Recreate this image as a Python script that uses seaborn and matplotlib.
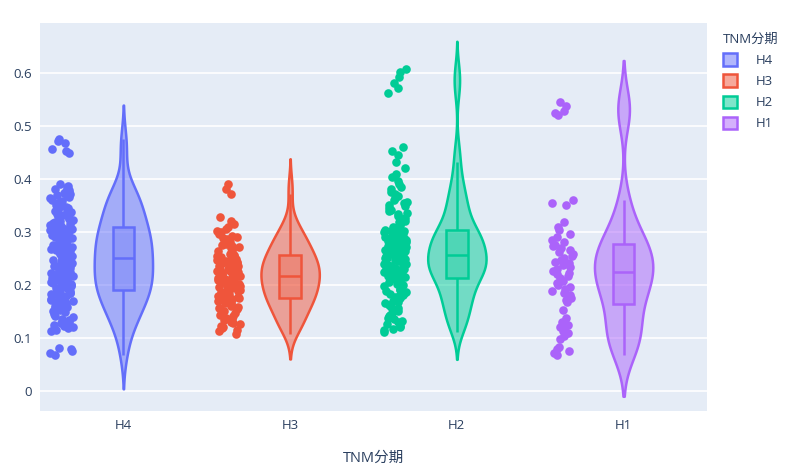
import numpy as np
import pandas as pd
import matplotlib
matplotlib.use('Agg')
import matplotlib.pyplot as plt
import seaborn as sns
from matplotlib.colors import to_rgba
from matplotlib.patches import Patch

# categories and colours (plotly default sequence)
stages = ['H4', 'H3', 'H2', 'H1']
colors = ['#636EFA', '#EF553B', '#00CC96', '#AB63FA']

# values, one list per stage
h4 = [0.068, 0.072, 0.075, 0.079, 0.081,
      0.112, 0.115, 0.118, 0.12, 0.122, 0.124, 0.126, 0.128, 0.13, 0.133, 0.136, 0.139, 0.142, 0.145, 0.148,
      0.151, 0.153, 0.155, 0.157, 0.159, 0.161, 0.163, 0.165, 0.167, 0.168, 0.17, 0.171, 0.173, 0.174, 0.176,
      0.177, 0.179, 0.18, 0.181, 0.183, 0.184, 0.185, 0.187, 0.188, 0.189,
      0.191, 0.192, 0.194, 0.195, 0.196, 0.198, 0.199, 0.2, 0.201, 0.203, 0.204, 0.205, 0.207, 0.208, 0.209,
      0.21, 0.212, 0.213, 0.214, 0.216, 0.217, 0.218, 0.219, 0.221, 0.222, 0.223, 0.225, 0.226, 0.227, 0.228,
      0.23, 0.231, 0.232, 0.234, 0.235, 0.236, 0.238, 0.239, 0.24, 0.242, 0.243, 0.244, 0.246, 0.247, 0.249,
      0.251, 0.252, 0.254, 0.255, 0.256, 0.258, 0.259, 0.26, 0.262, 0.263, 0.264, 0.266, 0.267, 0.268, 0.27,
      0.271, 0.272, 0.274, 0.275, 0.276, 0.278, 0.279, 0.28, 0.282, 0.283, 0.284, 0.286, 0.287, 0.288, 0.29,
      0.291, 0.292, 0.294, 0.295, 0.296, 0.298, 0.299, 0.3, 0.301, 0.302, 0.304, 0.305, 0.306, 0.308, 0.309,
      0.311, 0.313, 0.315, 0.317, 0.319, 0.321, 0.323, 0.325, 0.327, 0.329, 0.331, 0.333, 0.335, 0.337, 0.339,
      0.341, 0.343, 0.345, 0.347, 0.349, 0.351, 0.353, 0.355, 0.357, 0.359, 0.361, 0.363, 0.365, 0.367, 0.369,
      0.371, 0.373, 0.375, 0.377, 0.379, 0.381, 0.384, 0.387, 0.39,
      0.448, 0.452, 0.456, 0.468, 0.472, 0.475]

h3 = [0.108, 0.112, 0.115, 0.118, 0.12, 0.123, 0.126, 0.128, 0.13, 0.133, 0.136, 0.138, 0.141, 0.144, 0.147,
      0.15, 0.152, 0.155, 0.157, 0.159, 0.161, 0.163, 0.165, 0.166, 0.168, 0.169, 0.171, 0.172, 0.173, 0.174,
      0.176, 0.177, 0.179, 0.18, 0.182, 0.183, 0.185, 0.186, 0.188, 0.189, 0.191, 0.192, 0.194, 0.195, 0.197,
      0.198, 0.2, 0.201, 0.202, 0.204, 0.205, 0.207, 0.208, 0.209, 0.21, 0.211, 0.212, 0.214, 0.215, 0.216,
      0.218, 0.219, 0.22, 0.222, 0.223, 0.224, 0.226, 0.227, 0.228, 0.229, 0.231, 0.232, 0.233, 0.235, 0.236,
      0.237, 0.238, 0.24, 0.241, 0.242, 0.243, 0.245, 0.246, 0.247, 0.248, 0.25, 0.251, 0.252, 0.254, 0.255,
      0.257, 0.259, 0.261, 0.263, 0.265, 0.267, 0.269, 0.271, 0.273, 0.275, 0.277, 0.279, 0.281, 0.283, 0.285,
      0.287, 0.289, 0.291, 0.293, 0.296, 0.299, 0.302, 0.306, 0.31, 0.315, 0.32, 0.328, 0.372, 0.381, 0.39]

h2 = [0.111, 0.114, 0.117, 0.12, 0.123, 0.126, 0.129, 0.132, 0.135, 0.138, 0.141, 0.144, 0.147, 0.15, 0.153,
      0.156, 0.159, 0.162, 0.165, 0.167, 0.169, 0.171, 0.173, 0.175, 0.177, 0.179, 0.181, 0.183, 0.185, 0.187,
      0.189, 0.191, 0.193, 0.195, 0.197, 0.199, 0.202, 0.205, 0.208, 0.211,
      0.214, 0.215, 0.216, 0.217, 0.218, 0.219, 0.22, 0.221, 0.222, 0.223, 0.224, 0.225, 0.226, 0.227, 0.228,
      0.229, 0.23, 0.231, 0.232, 0.233, 0.234, 0.235, 0.236, 0.237, 0.238, 0.239, 0.24, 0.241, 0.242, 0.243,
      0.244, 0.245, 0.246, 0.247, 0.248, 0.249, 0.25, 0.251, 0.253, 0.255,
      0.257, 0.258, 0.259, 0.26, 0.261, 0.263, 0.264, 0.265, 0.266, 0.268, 0.269, 0.27, 0.271, 0.273, 0.274,
      0.275, 0.276, 0.278, 0.279, 0.28, 0.281, 0.283, 0.284, 0.285, 0.286, 0.288, 0.289, 0.29, 0.291, 0.293,
      0.294, 0.295, 0.296, 0.297, 0.298, 0.299, 0.3, 0.301, 0.302, 0.303,
      0.306, 0.309, 0.312, 0.315, 0.318, 0.321, 0.324, 0.327, 0.33, 0.333, 0.336, 0.339, 0.342, 0.345, 0.348,
      0.351, 0.354, 0.357, 0.36, 0.364, 0.368, 0.372, 0.376, 0.38, 0.385, 0.39, 0.396, 0.403, 0.41, 0.42,
      0.432, 0.445, 0.452, 0.46,
      0.562, 0.571, 0.58, 0.592, 0.601, 0.608]

h1 = [0.068, 0.072, 0.075, 0.079, 0.083, 0.098, 0.104, 0.109, 0.113, 0.117, 0.121, 0.125, 0.13, 0.138, 0.152,
      0.168, 0.172, 0.176, 0.18, 0.184, 0.188, 0.192, 0.196, 0.2, 0.204, 0.208, 0.212, 0.216, 0.22, 0.223,
      0.227, 0.23, 0.234, 0.238, 0.241, 0.244, 0.247, 0.25, 0.254, 0.258, 0.262, 0.266, 0.27, 0.273, 0.276,
      0.28, 0.285, 0.29, 0.296, 0.303, 0.31, 0.318, 0.35, 0.355, 0.36, 0.52, 0.524, 0.528, 0.538, 0.545]

yticks = [0, 0.1, 0.2, 0.3, 0.4, 0.5, 0.6]
ytick_labels = ['0', '0.1', '0.2', '0.3', '0.4', '0.5', '0.6']

rows = []
for s, vals in zip(stages, [h4, h3, h2, h1]):
    for v in vals:
        rows.append({'TNM分期': s, 'value': v})
df = pd.DataFrame(rows)


def silverman_factor(vals):
    """Bandwidth rule used by plotly, expressed as a scipy kde factor."""
    v = np.asarray(vals)
    sd = v.std(ddof=1)
    iqr = np.percentile(v, 75) - np.percentile(v, 25)
    bw = 1.059 * min(sd, iqr / 1.349) * len(v) ** -0.2
    return bw / sd


sns.set_theme(style='white')
plt.rcParams['font.family'] = ['Open Sans', 'Noto Sans CJK SC', 'DejaVu Sans']
text_color = '#2a3f5f'

fig = plt.figure(figsize=(8.04, 4.72), dpi=100)
ax = fig.add_axes([40 / 804, 61 / 472, 667 / 804, 388 / 472])
ax.set_facecolor('#E5ECF6')

for s, c in zip(stages, colors):
    sub = df[df['TNM分期'] == s]
    n0 = len(ax.collections)
    sns.violinplot(data=sub, x='TNM分期', y='value', order=stages, color=c, inner=None,
                   width=0.35, density_norm='width', bw_method=silverman_factor(sub['value']), cut=2,
                   linewidth=1.8, saturation=1, ax=ax)
    for coll in ax.collections[n0:]:
        coll.set_facecolor(to_rgba(c, 0.5))
        coll.set_edgecolor(c)
    p0 = len(ax.patches)
    sns.boxplot(data=sub, x='TNM分期', y='value', order=stages, color=c, linecolor=c,
                width=0.13, showcaps=False, showfliers=False, linewidth=1.8, saturation=1, ax=ax)
    for p in ax.patches[p0:]:
        p.set_facecolor(to_rgba(c, 0.3))
        p.set_edgecolor(c)
    n1 = len(ax.collections)
    sns.stripplot(data=sub, x='TNM分期', y='value', order=stages, color=c, size=6.2,
                  jitter=0.07, linewidth=0, ax=ax)
    # points sit to the left of each violin
    for coll in ax.collections[n1:]:
        offs = coll.get_offsets()
        offs[:, 0] -= 0.37
        coll.set_offsets(offs)

ax.set_xlim(-0.5, 3.5)
ax.set_ylim(-0.038, 0.694)
ax.set_yticks(yticks)
ax.set_yticklabels(ytick_labels)
ax.grid(axis='y', color='white', linewidth=1.2)
ax.set_axisbelow(True)
for sp in ax.spines.values():
    sp.set_visible(False)
ax.tick_params(axis='both', length=0, labelsize=9.5, colors=text_color, pad=6)
ax.set_ylabel('')
ax.set_xlabel('TNM分期', fontsize=10.5, color=text_color, labelpad=13)

handles = [Patch(facecolor=to_rgba(c, 0.5), edgecolor=c, linewidth=1.8, label=s)
           for s, c in zip(stages, colors)]
leg = fig.legend(handles=handles, title='TNM分期', loc='upper left', bbox_to_anchor=(0.884, 0.955),
                 frameon=False, handlelength=1.1, handleheight=1.1, handletextpad=1.4,
                 labelspacing=0.55, fontsize=9.5, title_fontsize=9.5)
leg._legend_box.align = 'left'
leg.get_title().set_color(text_color)
for t in leg.get_texts():
    t.set_color(text_color)

fig.savefig('out.png', dpi=100)
